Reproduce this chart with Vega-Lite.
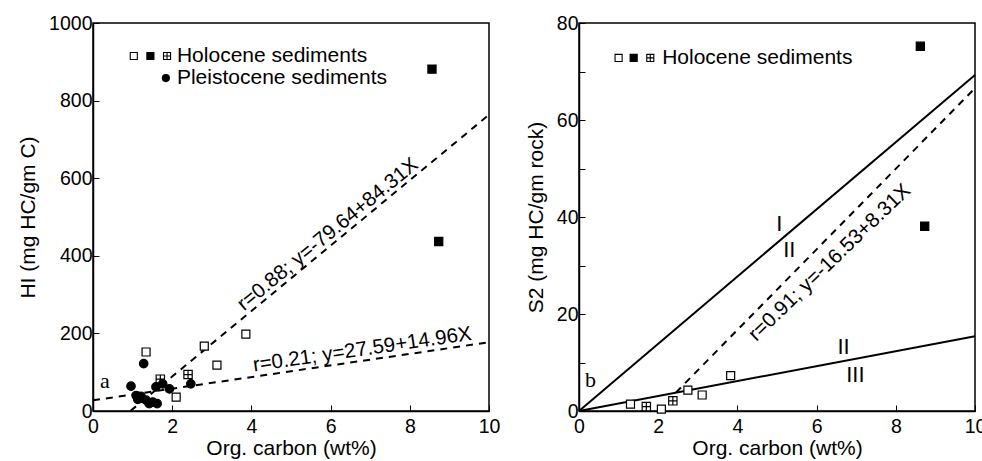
{
  "$schema": "https://vega.github.io/schema/vega-lite/v6.json",
  "background": "white",
  "padding": {"left": 16, "top": 12, "right": 0, "bottom": 0},
  "config": {
    "font": "Liberation Sans",
    "view": {"stroke": "black", "strokeWidth": 1.5},
    "concat": {"spacing": 23},
    "axis": {
      "labelFont": "Liberation Sans", "labelFontSize": 19.5, "labelColor": "black",
      "titleFont": "Liberation Sans", "titleFontSize": 21, "titleFontWeight": "normal", "titleColor": "black",
      "domainColor": "black", "domainWidth": 1.5, "tickColor": "black", "tickWidth": 1, "tickSize": -6,
      "grid": false, "labelPadding": 7, "labelFlush": false, "labelOverlap": false
    },
    "axisX": {"labelPadding": 12, "titlePadding": 2}
  },
  "datasets": {
    "hiPoints": [
      {"toc": 1.34, "hi": 152, "kind": "open"},
      {"toc": 2.10, "hi": 36, "kind": "open"},
      {"toc": 2.81, "hi": 167, "kind": "open"},
      {"toc": 3.13, "hi": 118, "kind": "open"},
      {"toc": 3.86, "hi": 198, "kind": "open"},
      {"toc": 1.70, "hi": 82, "kind": "crossed"},
      {"toc": 2.40, "hi": 94, "kind": "crossed"},
      {"toc": 8.56, "hi": 881, "kind": "filled"},
      {"toc": 8.73, "hi": 437, "kind": "filled"},
      {"toc": 0.96, "hi": 64, "kind": "circle"},
      {"toc": 1.28, "hi": 122, "kind": "circle"},
      {"toc": 1.09, "hi": 40, "kind": "circle"},
      {"toc": 1.13, "hi": 30, "kind": "circle"},
      {"toc": 1.21, "hi": 38, "kind": "circle"},
      {"toc": 1.34, "hi": 28, "kind": "circle"},
      {"toc": 1.42, "hi": 19, "kind": "circle"},
      {"toc": 1.51, "hi": 23, "kind": "circle"},
      {"toc": 1.62, "hi": 19, "kind": "circle"},
      {"toc": 1.59, "hi": 62, "kind": "circle"},
      {"toc": 1.76, "hi": 70, "kind": "circle"},
      {"toc": 1.93, "hi": 57, "kind": "circle"},
      {"toc": 2.47, "hi": 70, "kind": "circle"}
    ],
    "hiLegend": [
      {"toc": 1.03, "hi": 915, "kind": "open"},
      {"toc": 1.45, "hi": 915, "kind": "filled"},
      {"toc": 1.87, "hi": 915, "kind": "crossed"},
      {"toc": 1.84, "hi": 858, "kind": "circle"}
    ],
    "s2Points": [
      {"toc": 1.30, "s2": 1.4, "kind": "open"},
      {"toc": 2.08, "s2": 0.4, "kind": "open"},
      {"toc": 2.75, "s2": 4.3, "kind": "open"},
      {"toc": 3.11, "s2": 3.3, "kind": "open"},
      {"toc": 3.83, "s2": 7.3, "kind": "open"},
      {"toc": 1.70, "s2": 0.9, "kind": "crossed"},
      {"toc": 2.37, "s2": 2.1, "kind": "crossed"},
      {"toc": 8.62, "s2": 75.2, "kind": "filled"},
      {"toc": 8.73, "s2": 38.1, "kind": "filled"}
    ],
    "s2Legend": [
      {"toc": 1.0, "s2": 72.8, "kind": "open"},
      {"toc": 1.38, "s2": 72.8, "kind": "filled"},
      {"toc": 1.80, "s2": 72.8, "kind": "crossed"}
    ]
  },
  "hconcat": [
    {
      "width": 396,
      "height": 388,
      "layer": [
        {
          "data": {"values": [
            {"line": "A", "toc": 0.95, "hi": 0.45},
            {"line": "A", "toc": 10, "hi": 763.46},
            {"line": "B", "toc": 0, "hi": 27.59},
            {"line": "B", "toc": 10, "hi": 177.19}
          ]},
          "mark": {"type": "line", "color": "black", "strokeWidth": 2, "strokeDash": [7, 6]},
          "encoding": {
            "x": {"field": "toc", "type": "quantitative", "scale": {"domain": [0, 10], "nice": false},
                  "axis": {"title": "Org. carbon (wt%)", "values": [0,1,2,3,4,5,6,7,8,9,10], "labelExpr": "datum.value % 2 === 0 ? datum.label : ''"}},
            "y": {"field": "hi", "type": "quantitative", "scale": {"domain": [0, 1000], "nice": false},
                  "axis": {"title": "HI (mg HC/gm C)", "format": "d", "values": [0,100,200,300,400,500,600,700,800,900,1000], "labelExpr": "datum.value % 200 === 0 ? datum.label : ''", "titlePadding": 10}},
            "detail": {"field": "line"}
          }
        },
        {
          "data": {"name": "hiPoints"},
          "mark": {"type": "point", "filled": true, "stroke": "black", "strokeWidth": 1.2, "opacity": 1},
          "encoding": {
            "x": {"field": "toc", "type": "quantitative"},
            "y": {"field": "hi", "type": "quantitative"},
            "shape": {"field": "kind", "type": "nominal", "scale": {"domain": ["open", "filled", "crossed", "circle"], "range": ["square", "square", "M-1,-1H1V1H-1ZM0,-1V1M-1,0H1", "circle"]}, "legend": null},
            "fill": {"field": "kind", "type": "nominal", "scale": {"domain": ["open", "filled", "crossed", "circle"], "range": ["white", "black", "white", "black"]}, "legend": null},
            "size": {"field": "kind", "type": "ordinal", "scale": {"domain": ["open", "filled", "crossed", "circle"], "range": [64, 72, 64, 28]}, "legend": null}
          }
        },
        {
          "data": {"name": "hiLegend"},
          "mark": {"type": "point", "filled": true, "stroke": "black", "strokeWidth": 1.1, "opacity": 1},
          "encoding": {
            "x": {"field": "toc", "type": "quantitative"},
            "y": {"field": "hi", "type": "quantitative"},
            "shape": {"field": "kind", "type": "nominal", "legend": null},
            "fill": {"field": "kind", "type": "nominal", "legend": null},
            "size": {"value": 50}
          }
        },
        {
          "data": {"values": [
            {"toc": 2.12, "hi": 915, "label": "Holocene sediments"},
            {"toc": 2.12, "hi": 858, "label": "Pleistocene sediments"}
          ]},
          "mark": {"type": "text", "align": "left", "baseline": "middle", "fontSize": 21, "font": "Liberation Sans", "color": "black"},
          "encoding": {
            "x": {"field": "toc", "type": "quantitative"},
            "y": {"field": "hi", "type": "quantitative"},
            "text": {"field": "label"}
          }
        },
        {
          "data": {"values": [{"toc": 5.93, "hi": 455, "label": "r=0.88; y=-79.64+84.31X"}]},
          "mark": {"type": "text", "align": "center", "baseline": "middle", "fontSize": 20.5, "angle": -39.5, "font": "Liberation Sans", "color": "black"},
          "encoding": {
            "x": {"field": "toc", "type": "quantitative"},
            "y": {"field": "hi", "type": "quantitative"},
            "text": {"field": "label"}
          }
        },
        {
          "data": {"values": [{"toc": 6.8, "hi": 158, "label": "r=0.21; y=27.59+14.96X"}]},
          "mark": {"type": "text", "align": "center", "baseline": "middle", "fontSize": 20.5, "angle": -8.3, "font": "Liberation Sans", "color": "black"},
          "encoding": {
            "x": {"field": "toc", "type": "quantitative"},
            "y": {"field": "hi", "type": "quantitative"},
            "text": {"field": "label"}
          }
        },
        {
          "data": {"values": [{"toc": 0.3, "hi": 78, "label": "a"}]},
          "mark": {"type": "text", "align": "center", "baseline": "middle", "fontSize": 22, "font": "Liberation Serif", "color": "black"},
          "encoding": {
            "x": {"field": "toc", "type": "quantitative"},
            "y": {"field": "hi", "type": "quantitative"},
            "text": {"field": "label"}
          }
        }
      ]
    },
    {
      "width": 396,
      "height": 388,
      "layer": [
        {
          "data": {"values": [
            {"line": "I", "toc": 0, "s2": 0},
            {"line": "I", "toc": 10, "s2": 69.3},
            {"line": "III", "toc": 0, "s2": 0},
            {"line": "III", "toc": 10, "s2": 15.4}
          ]},
          "mark": {"type": "line", "color": "black", "strokeWidth": 2},
          "encoding": {
            "x": {"field": "toc", "type": "quantitative", "scale": {"domain": [0, 10], "nice": false},
                  "axis": {"title": "Org. carbon (wt%)", "values": [0,1,2,3,4,5,6,7,8,9,10], "labelExpr": "datum.value % 2 === 0 ? datum.label : ''"}},
            "y": {"field": "s2", "type": "quantitative", "scale": {"domain": [0, 80], "nice": false},
                  "axis": {"title": "S2 (mg HC/gm rock)", "values": [0,10,20,30,40,50,60,70,80], "labelExpr": "datum.value % 20 === 0 ? datum.label : ''", "titlePadding": 10}},
            "detail": {"field": "line"}
          }
        },
        {
          "data": {"values": [
            {"toc": 2.45, "s2": 3.83},
            {"toc": 10, "s2": 66.57}
          ]},
          "mark": {"type": "line", "color": "black", "strokeWidth": 2, "strokeDash": [7, 6]},
          "encoding": {
            "x": {"field": "toc", "type": "quantitative"},
            "y": {"field": "s2", "type": "quantitative"}
          }
        },
        {
          "data": {"name": "s2Points"},
          "mark": {"type": "point", "filled": true, "stroke": "black", "strokeWidth": 1.2, "opacity": 1},
          "encoding": {
            "x": {"field": "toc", "type": "quantitative"},
            "y": {"field": "s2", "type": "quantitative"},
            "shape": {"field": "kind", "type": "nominal", "scale": {"domain": ["open", "filled", "crossed"], "range": ["square", "square", "M-1,-1H1V1H-1ZM0,-1V1M-1,0H1"]}, "legend": null},
            "fill": {"field": "kind", "type": "nominal", "scale": {"domain": ["open", "filled", "crossed"], "range": ["white", "black", "white"]}, "legend": null},
            "size": {"field": "kind", "type": "ordinal", "scale": {"domain": ["open", "filled", "crossed"], "range": [64, 64, 64]}, "legend": null}
          }
        },
        {
          "data": {"name": "s2Legend"},
          "mark": {"type": "point", "filled": true, "stroke": "black", "strokeWidth": 1.1, "opacity": 1},
          "encoding": {
            "x": {"field": "toc", "type": "quantitative"},
            "y": {"field": "s2", "type": "quantitative"},
            "shape": {"field": "kind", "type": "nominal", "legend": null},
            "fill": {"field": "kind", "type": "nominal", "legend": null},
            "size": {"value": 50}
          }
        },
        {
          "data": {"values": [{"toc": 2.10, "s2": 72.8, "label": "Holocene sediments"}]},
          "mark": {"type": "text", "align": "left", "baseline": "middle", "fontSize": 21, "font": "Liberation Sans", "color": "black"},
          "encoding": {
            "x": {"field": "toc", "type": "quantitative"},
            "y": {"field": "s2", "type": "quantitative"},
            "text": {"field": "label"}
          }
        },
        {
          "data": {"values": [{"toc": 6.33, "s2": 30.6, "label": "r=0.91; y=-16.53+8.31X"}]},
          "mark": {"type": "text", "align": "center", "baseline": "middle", "fontSize": 20.5, "angle": -44, "font": "Liberation Sans", "color": "black"},
          "encoding": {
            "x": {"field": "toc", "type": "quantitative"},
            "y": {"field": "s2", "type": "quantitative"},
            "text": {"field": "label"}
          }
        },
        {
          "data": {"values": [
            {"toc": 5.06, "s2": 38.6, "label": "I"},
            {"toc": 5.31, "s2": 33.1, "label": "II"},
            {"toc": 6.68, "s2": 13.2, "label": "II"},
            {"toc": 6.98, "s2": 7.4, "label": "III"}
          ]},
          "mark": {"type": "text", "align": "center", "baseline": "middle", "fontSize": 22, "font": "Liberation Sans", "color": "black"},
          "encoding": {
            "x": {"field": "toc", "type": "quantitative"},
            "y": {"field": "s2", "type": "quantitative"},
            "text": {"field": "label"}
          }
        },
        {
          "data": {"values": [{"toc": 0.29, "s2": 6.3, "label": "b"}]},
          "mark": {"type": "text", "align": "center", "baseline": "middle", "fontSize": 22, "font": "Liberation Serif", "color": "black"},
          "encoding": {
            "x": {"field": "toc", "type": "quantitative"},
            "y": {"field": "s2", "type": "quantitative"},
            "text": {"field": "label"}
          }
        }
      ]
    }
  ]
}
